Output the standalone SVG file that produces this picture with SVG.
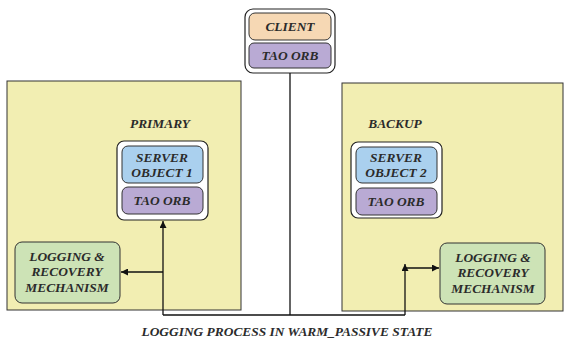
<svg xmlns="http://www.w3.org/2000/svg" width="570" height="341" viewBox="0 0 570 341">
  <defs>
    <style>
      .panel { fill: #f2eeb2; stroke: #333; stroke-width: 1; }
      .holder { fill: #fff; stroke: #222; stroke-width: 1.2; }
      .client { fill: #f6d8b4; stroke: #333; stroke-width: 1; }
      .orb { fill: #b9aad4; stroke: #333; stroke-width: 1; }
      .server { fill: #aad0ee; stroke: #333; stroke-width: 1; }
      .log { fill: #cde3b6; stroke: #333; stroke-width: 1; }
      .wire { fill: none; stroke: #111; stroke-width: 1.3; }
      text { font-family: "Liberation Serif", "Times New Roman", serif; font-weight: bold; font-style: italic; fill: #2b2b2b; text-anchor: middle; font-size: 13.4px; }
    </style>
    <marker id="arrow" viewBox="0 0 10 10" refX="10" refY="5" markerWidth="7" markerHeight="7" orient="auto" markerUnits="userSpaceOnUse">
      <path d="M0,0 L10,5 L0,10 z" fill="#111"/>
    </marker>
  </defs>

  <!-- host panels -->
  <g id="primary-host">
    <rect class="panel" x="7" y="81" width="234" height="229"/>
    <text x="160" y="128">PRIMARY</text>
  </g>
  <g id="backup-host">
    <rect class="panel" x="342" y="83" width="221" height="228"/>
    <text x="395" y="128">BACKUP</text>
  </g>

  <!-- client process -->
  <g id="client">
    <rect class="holder" x="245" y="9" width="90" height="64" rx="8"/>
    <rect class="client" x="249" y="13" width="82" height="27" rx="6"/>
    <text x="290" y="31">CLIENT</text>
    <rect class="orb" x="249" y="43" width="82" height="25" rx="5"/>
    <text x="290" y="60">TAO ORB</text>
  </g>

  <!-- primary server object -->
  <g id="server1">
    <rect class="holder" x="117" y="141" width="91" height="79" rx="7"/>
    <rect class="server" x="122" y="146" width="81" height="37" rx="6"/>
    <text x="162" y="162">SERVER</text>
    <text x="162" y="177">OBJECT 1</text>
    <rect class="orb" x="122" y="187" width="81" height="27" rx="6"/>
    <text x="162" y="205">TAO ORB</text>
  </g>

  <!-- backup server object -->
  <g id="server2">
    <rect class="holder" x="351" y="142" width="91" height="76" rx="7"/>
    <rect class="server" x="356" y="147" width="81" height="36" rx="6"/>
    <text x="396" y="162">SERVER</text>
    <text x="396" y="177">OBJECT 2</text>
    <rect class="orb" x="356" y="188" width="81" height="27" rx="6"/>
    <text x="396" y="206">TAO ORB</text>
  </g>

  <!-- logging on primary -->
  <g id="log1">
    <rect class="log" x="15" y="242" width="105" height="61" rx="7"/>
    <text x="67" y="261">LOGGING &amp;</text>
    <text x="67" y="276">RECOVERY</text>
    <text x="67" y="292">MECHANISM</text>
  </g>

  <!-- logging on backup -->
  <g id="log2">
    <rect class="log" x="440" y="243" width="105" height="61" rx="7"/>
    <text x="493" y="262">LOGGING &amp;</text>
    <text x="493" y="277">RECOVERY</text>
    <text x="493" y="293">MECHANISM</text>
  </g>

  <!-- connectors -->
  <g id="connectors">
    <path class="wire" d="M290,73 V315"/>
    <path class="wire" d="M163,315 H405"/>
    <path class="wire" d="M163,315 V221" marker-end="url(#arrow)"/>
    <path class="wire" d="M163,272 H121" marker-end="url(#arrow)"/>
    <path class="wire" d="M405,315 V264" marker-end="url(#arrow)"/>
    <path class="wire" d="M405,268 H439" marker-end="url(#arrow)"/>
  </g>

  <text x="287" y="336" font-size="12.8">LOGGING PROCESS IN WARM_PASSIVE STATE</text>
</svg>
